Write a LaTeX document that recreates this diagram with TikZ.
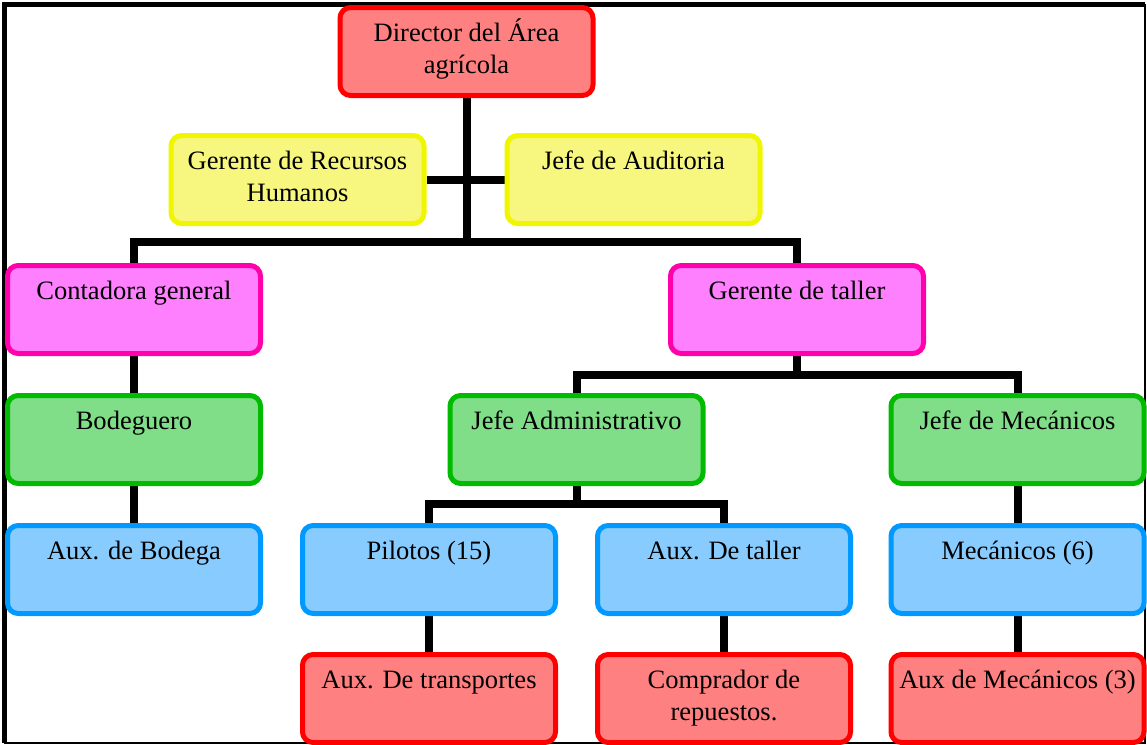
\documentclass[tikz,border=0pt]{standalone}
\usepackage{fontspec}
\setmainfont{Liberation Serif}
\usetikzlibrary{backgrounds}
\definecolor{redB}{RGB}{255,0,0}
\definecolor{redF}{RGB}{255,128,128}
\definecolor{yelB}{RGB}{240,245,0}
\definecolor{yelF}{RGB}{247,247,128}
\definecolor{magB}{RGB}{255,0,170}
\definecolor{magF}{RGB}{255,128,255}
\definecolor{grnB}{RGB}{0,187,0}
\definecolor{grnF}{RGB}{128,221,136}
\definecolor{bluB}{RGB}{0,153,255}
\definecolor{bluF}{RGB}{136,204,255}
\newcommand{\bxtext}[1]{\parbox[c][66pt][t]{189.75pt}{\vspace*{8.5pt}\centering\strut #1}}
\tikzset{
  orgbox/.style={draw, rectangle, rounded corners=8pt, line width=3.75pt, inner sep=0pt,
    font=\fontsize{19.9}{24}\selectfont},
  redbox/.style={orgbox, draw=redB, fill=redF},
  yelbox/.style={orgbox, draw=yelB, fill=yelF},
  magbox/.style={orgbox, draw=magB, fill=magF},
  grnbox/.style={orgbox, draw=grnB, fill=grnF},
  blubox/.style={orgbox, draw=bluB, fill=bluF},
  link/.style={draw=black, line width=6pt, line join=miter}
}
\begin{document}
\begin{tikzpicture}[x=0.75pt,y=-0.75pt]
\useasboundingbox (0,0) rectangle (1147,744);
% frame
\draw[line width=1.1pt] (4.5,4.5) rectangle (1145,743);
\draw[line width=3.75pt] (4.5,743) -- (4.5,4.5) -- (1145,4.5);
% nodes
\node[redbox] (dir)  at (466.5,51.5)  {\bxtext{Director del Área\\agrícola}};
\node[yelbox] (rrhh) at (297.5,179.5) {\bxtext{Gerente de Recursos\\Humanos}};
\node[yelbox] (aud)  at (633.5,179.5) {\bxtext{Jefe de Auditoria}};
\node[magbox] (cont) at (134,309.5)   {\bxtext{Contadora general}};
\node[magbox] (tall) at (797,309.5)   {\bxtext{Gerente de taller}};
\node[grnbox] (bod)  at (134,439.5)   {\bxtext{Bodeguero}};
\node[grnbox] (adm)  at (576.5,439.5) {\bxtext{Jefe Administrativo}};
\node[grnbox] (jmec) at (1017.5,439.5){\bxtext{Jefe de Mecánicos}};
\node[blubox] (auxb) at (134,569.5)   {\bxtext{Aux. de Bodega}};
\node[blubox] (pil)  at (429,569.5)   {\bxtext{Pilotos (15)}};
\node[blubox] (auxt) at (724,569.5)   {\bxtext{Aux. De taller}};
\node[blubox] (mec)  at (1017.5,569.5){\bxtext{Mecánicos (6)}};
\node[redbox] (trans) at (429,698.5)  {\bxtext{Aux. De transportes}};
\node[redbox] (comp) at (724,698.5)   {\bxtext{Comprador de\\repuestos.}};
\node[redbox] (auxm) at (1017.5,698.5){\bxtext{Aux de Mecánicos (3)}};
% junctions
\coordinate (j1) at (466.5,242);
\coordinate (j2) at (797,375);
\coordinate (j3) at (576.5,504);
\begin{scope}[on background layer]
\draw[link] (dir.south) -- (j1);
\draw[link] (rrhh.east) -- (aud.west);
\draw[link] (cont.north) -- (cont.north |- j1) -- (tall.north |- j1) -- (tall.north);
\draw[link] (cont.south) -- (bod.north);
\draw[link] (bod.south) -- (auxb.north);
\draw[link] (tall.south) -- (j2);
\draw[link] (adm.north) -- (adm.north |- j2) -- (jmec.north |- j2) -- (jmec.north);
\draw[link] (adm.south) -- (j3);
\draw[link] (pil.north) -- (pil.north |- j3) -- (auxt.north |- j3) -- (auxt.north);
\draw[link] (pil.south) -- (trans.north);
\draw[link] (auxt.south) -- (comp.north);
\draw[link] (jmec.south) -- (mec.north);
\draw[link] (mec.south) -- (auxm.north);
\end{scope}
\end{tikzpicture}
\end{document}
